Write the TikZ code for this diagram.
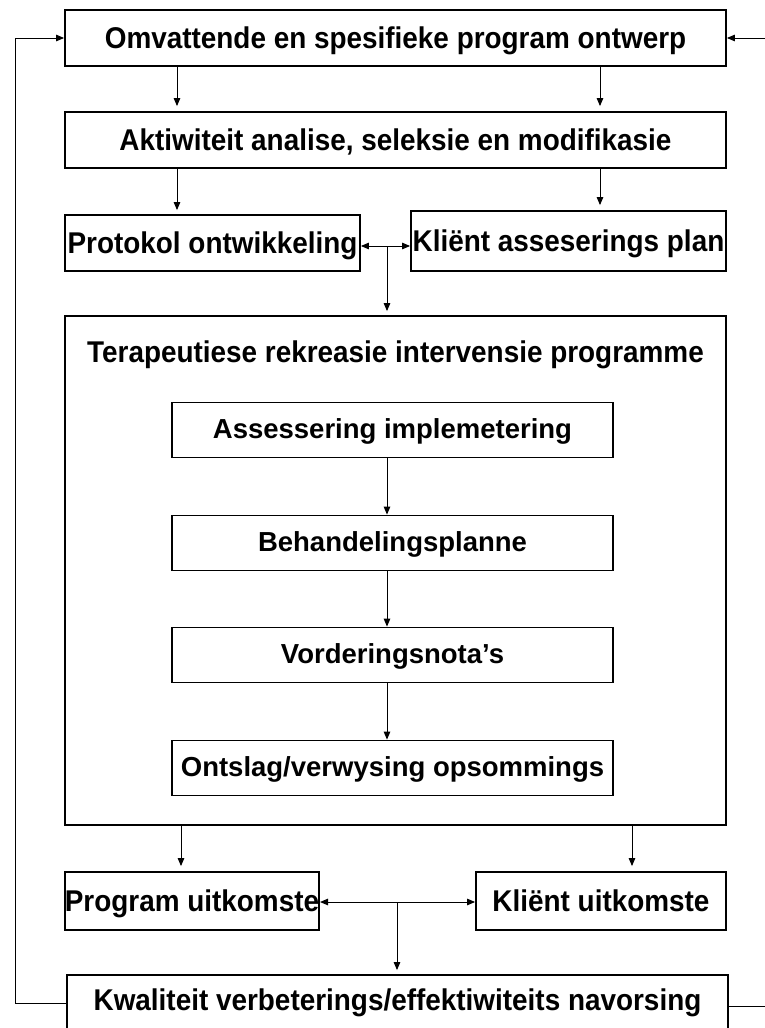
\documentclass[tikz,border=0pt]{standalone}
\usepackage{fontspec}
\setmainfont{Liberation Sans}
\newfontfamily\condfont[FakeStretch=0.93]{Liberation Sans}
\usetikzlibrary{arrows.meta}
\begin{document}
\begin{tikzpicture}[x=1pt,y=-1pt,
  box/.style={draw=black, line width=1.8pt, inner sep=0pt, align=center,
    text height=21pt, text depth=1pt,
    font=\condfont\bfseries\fontsize{30}{34}\selectfont},
  inbox/.style={draw=black, line width=1.8pt, inner sep=0pt, align=center,
    text height=20pt, text depth=3pt,
    font=\bfseries\fontsize{27.5}{32}\selectfont,
    minimum width=441pt, minimum height=55pt},
  arr/.style={draw=black, line width=1pt, -{Triangle[length=8pt,width=6.5pt]}},
  darr/.style={draw=black, line width=1pt, {Triangle[length=8pt,width=6.5pt]}-{Triangle[length=8pt,width=6.5pt]}},
  fb/.style={draw=black, line width=1pt}]
\clip (0,0) rectangle (765,1028);
\useasboundingbox (0,0) rectangle (765,1028);
% main column
\node[box, minimum width=661pt, minimum height=56pt] (omv) at (395.5,38) {Omvattende en spesifieke program ontwerp};
\node[box, minimum width=661pt, minimum height=56pt] (akt) at (395.5,140) {Aktiwiteit analise, seleksie en modifikasie};
\node[box, minimum width=295pt, minimum height=56pt] (prot) at (212.5,243) {Protokol ontwikkeling};
\node[box, minimum width=315pt, minimum height=60pt] (klp) at (568.5,241) {Kliënt asseserings plan};
\node[box, minimum width=661pt, minimum height=509pt] (big) at (395.5,570.5) {};
\node[font=\condfont\bfseries\fontsize{30}{34}\selectfont, text height=21pt, text depth=1pt, inner sep=0pt] (title) at (395.5,352) {Terapeutiese rekreasie intervensie programme};
\node[inbox] (ass) at (392.5,430) {Assessering implemetering};
\node[inbox] (beh) at (392.5,543) {Behandelingsplanne};
\node[inbox] (vor) at (392.5,655) {Vorderingsnota's};
\node[inbox] (ont) at (392.5,768) {Ontslag/verwysing opsommings};
\node[box, minimum width=254pt, minimum height=58pt] (pu) at (192,901) {Program uitkomste};
\node[box, minimum width=250pt, minimum height=58pt] (ku) at (601,901) {Kliënt uitkomste};
\node[box, minimum width=661pt, minimum height=70pt, text depth=20pt] (kw) at (397.5,1010) {Kwaliteit verbeterings/effektiwiteits navorsing};
% helper coordinates
\coordinate (c177) at (177,0);
\coordinate (c600) at (600,0);
\coordinate (c181) at (181,0);
\coordinate (c632) at (632,0);
\coordinate (c387) at (387,246);
\coordinate (c397) at (397,902);
\coordinate (c387i) at (387,0);
\coordinate (lx) at (15,0);
\coordinate (rx) at (790,0);
% connectors
\draw[arr, shorten >=5pt] (omv.south -| c177) -- (akt.north -| c177);
\draw[arr, shorten >=5pt] (omv.south -| c600) -- (akt.north -| c600);
\draw[arr, shorten >=4pt] (akt.south -| c177) -- (prot.north -| c177);
\draw[arr, shorten >=5pt] (akt.south -| c600) -- (klp.north -| c600);
\draw[darr] (prot.east |- c387) -- (klp.west |- c387);
\draw[arr, shorten >=4pt] (c387) -- (big.north -| c387);
\draw[arr] (ass.south -| c387i) -- (beh.north -| c387i);
\draw[arr] (beh.south -| c387i) -- (vor.north -| c387i);
\draw[arr] (vor.south -| c387i) -- (ont.north -| c387i);
\draw[arr, shorten >=5pt] (big.south -| c181) -- (pu.north -| c181);
\draw[arr, shorten >=5pt] (big.south -| c632) -- (ku.north -| c632);
\draw[darr] (pu.east |- c397) -- (ku.west |- c397);
\draw[arr, shorten >=4pt] (c397) -- (kw.north -| c397);
% feedback loops
\draw[fb, -{Triangle[length=8pt,width=6.5pt]}] (kw.west |- 0,1003) -| (lx |- omv.west) -- (omv.west);
\draw[fb, -{Triangle[length=8pt,width=6.5pt]}] (kw.east |- 0,1006) -| (rx |- omv.east) -- (omv.east);
\end{tikzpicture}
\end{document}
